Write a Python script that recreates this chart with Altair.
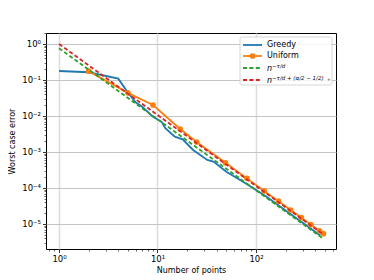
import altair as alt
import pandas as pd

# ---- data ----
greedy_n = [1, 2, 4, 5, 6, 7, 9, 11, 12, 15, 18, 23, 32, 37, 50, 69, 94, 128, 450]
greedy_v = [0.178, 0.164, 0.109, 0.045, 0.024, 0.018, 0.0095, 0.0069, 0.0046, 0.00266,
            0.00225, 0.00114, 6.0e-4, 5.4e-4, 2.84e-4, 1.66e-4, 9.8e-5, 5.7e-5, 4.8e-6]

uniform_n = [2, 5, 9, 17, 25, 49, 81, 121, 169, 225, 289, 361, 441, 484]
uniform_v = [0.176, 0.044, 0.0202, 0.00436, 0.0019, 5.0e-4, 1.85e-4, 8.3e-5, 4.3e-5,
             2.45e-5, 1.5e-5, 9.6e-6, 6.5e-6, 5.4e-6]

rate_n = [1, 470]
rate_green_v = [0.76, 4.1e-6]
rate_red_v = [1.0, 5.4e-6]

x_major = [1, 10, 100]
x_major_labels = ["10⁰", "10¹", "10²"]
y_major = [1e-05, 0.0001, 0.001, 0.01, 0.1, 1]
y_major_labels = ["10⁻⁵", "10⁻⁴", "10⁻³", "10⁻²", "10⁻¹", "10⁰"]

legend_labels = ["Greedy", "Uniform"]

# ---- styling ----
BLUE, ORANGE, GREEN, RED = "#1f77b4", "#ff7f0e", "#2ca02c", "#d62728"
FONT = "DejaVu Sans"
XDOM = [0.738, 649]
YDOM = [2.02e-6, 2.02]
DASH = [4, 2.4]
LW = 1.8

x_ticks = [0.8, 0.9] + [m * 10 ** k for k in range(0, 3) for m in range(1, 10)]
x_ticks = [t for t in x_ticks if XDOM[0] <= t <= XDOM[1]]
y_ticks = [float(f"{m}e{k}") for k in range(-6, 1) for m in range(1, 10)]
y_ticks = [t for t in y_ticks if YDOM[0] <= t <= YDOM[1]]


def label_expr(vals, labels):
    expr = "''"
    for v, l in zip(vals, labels):
        expr = f"datum.value == {v} ? '{l}' : ({expr})"
    return expr


def major_test(vals):
    return "indexof([" + ",".join(str(v) for v in vals) + "], datum.value) >= 0"


def make_axis(vals, labels, ticks, title, tpad, gridcolor, gridwidth):
    test = major_test(vals)
    return alt.Axis(
        values=ticks,
        labelExpr=label_expr(vals, labels),
        title=title,
        titleFont=FONT, titleFontSize=8, titleFontWeight="normal", titleColor="black",
        titlePadding=tpad,
        labelFont=FONT, labelFontSize=8.5, labelColor="black", labelPadding=2,
        labelOverlap=False, labelFlush=False,
        domain=False,
        ticks=True, tickColor="black",
        tickSize={"condition": {"test": test, "value": 3.5}, "value": 2},
        tickWidth={"condition": {"test": test, "value": 0.8}, "value": 0.6},
        grid=True, gridColor=gridcolor,
        gridWidth=gridwidth,
        gridOpacity={"condition": {"test": test, "value": 1}, "value": 0},
    )


xaxis = make_axis(x_major, x_major_labels, x_ticks, "Number of points", 3, "#dddddd", 1.6)
yaxis = make_axis(y_major, y_major_labels, y_ticks, "Worst case error", 5, "#c4c4c4", 1.0)

xs = alt.Scale(type="log", domain=XDOM, nice=False)
ys = alt.Scale(type="log", domain=YDOM, nice=False)


def enc():
    return dict(x=alt.X("n:Q", scale=xs, axis=xaxis), y=alt.Y("v:Q", scale=ys, axis=yaxis))


df_g = pd.DataFrame({"n": greedy_n, "v": greedy_v})
df_u = pd.DataFrame({"n": uniform_n, "v": uniform_v})
df_gr = pd.DataFrame({"n": rate_n, "v": rate_green_v})
df_rd = pd.DataFrame({"n": rate_n, "v": rate_red_v})

greedy = alt.Chart(df_g).mark_line(color=BLUE, strokeWidth=LW).encode(**enc())
uniform_line = alt.Chart(df_u).mark_line(color=ORANGE, strokeWidth=LW).encode(**enc())
uniform_pts = alt.Chart(df_u).mark_circle(color=ORANGE, size=32, opacity=1).encode(**enc())
green = alt.Chart(df_gr).mark_line(color=GREEN, strokeWidth=LW, strokeDash=DASH).encode(**enc())
red = alt.Chart(df_rd).mark_line(color=RED, strokeWidth=LW, strokeDash=DASH).encode(**enc())

# ---- manual legend (upper right) ----
one = pd.DataFrame({"a": [0]})
LX0, LX1, LT = 197, 216, 221
rows = [12, 23, 35, 47]

legend_layers = [
    alt.Chart(one).mark_rect(fill="white", fillOpacity=0.8, stroke="#cccccc", strokeWidth=0.8,
                             cornerRadius=2).encode(
        x=alt.value(194), x2=alt.value(286), y=alt.value(4), y2=alt.value(52)),
]
styles = [(BLUE, None), (ORANGE, None), (GREEN, DASH), (RED, DASH)]
for (col, dash), ry in zip(styles, rows):
    kw = dict(color=col, strokeWidth=LW)
    if dash:
        kw["strokeDash"] = dash
    legend_layers.append(alt.Chart(one).mark_rule(**kw).encode(
        x=alt.value(LX0), x2=alt.value(LX1), y=alt.value(ry)))
legend_layers.append(alt.Chart(one).mark_circle(color=ORANGE, size=32, opacity=1).encode(
    x=alt.value((LX0 + LX1) / 2), y=alt.value(rows[1])))
for txt, ry in zip(legend_labels, rows[:2]):
    legend_layers.append(alt.Chart(one).mark_text(
        text=txt, font=FONT, fontSize=8, align="left", baseline="middle", color="black").encode(
        x=alt.value(LT), y=alt.value(ry)))
for ry in rows[2:]:
    legend_layers.append(alt.Chart(one).mark_text(
        text="n", font=FONT, fontSize=8, fontStyle="italic", align="left", baseline="middle",
        color="black").encode(x=alt.value(LT), y=alt.value(ry + 1)))
legend_layers.append(alt.Chart(one).mark_text(
    text="−τ/d", font=FONT, fontSize=5.5, fontStyle="italic", align="left", baseline="middle",
    color="black").encode(x=alt.value(LT + 5), y=alt.value(rows[2] - 2)))
legend_layers.append(alt.Chart(one).mark_text(
    text="−τ/d + (α/2 − 1/2)", font=FONT, fontSize=5.5, fontStyle="italic", align="left",
    baseline="middle", color="black").encode(x=alt.value(LT + 5), y=alt.value(rows[3] - 2)))
legend_layers.append(alt.Chart(one).mark_text(
    text="+", font=FONT, fontSize=4.5, align="left", baseline="middle",
    color="black").encode(x=alt.value(LT + 60), y=alt.value(rows[3])))

chart = alt.layer(greedy, uniform_line, uniform_pts, green, red, *legend_layers).properties(
    width=290, height=216,
    padding={"left": 38, "top": 25, "right": 30, "bottom": 31},
    autosize=alt.AutoSizeParams(type="none"),
).configure_view(stroke="black", strokeWidth=1)

chart.save("out.html", embed_options={"renderer": "svg", "actions": False})
